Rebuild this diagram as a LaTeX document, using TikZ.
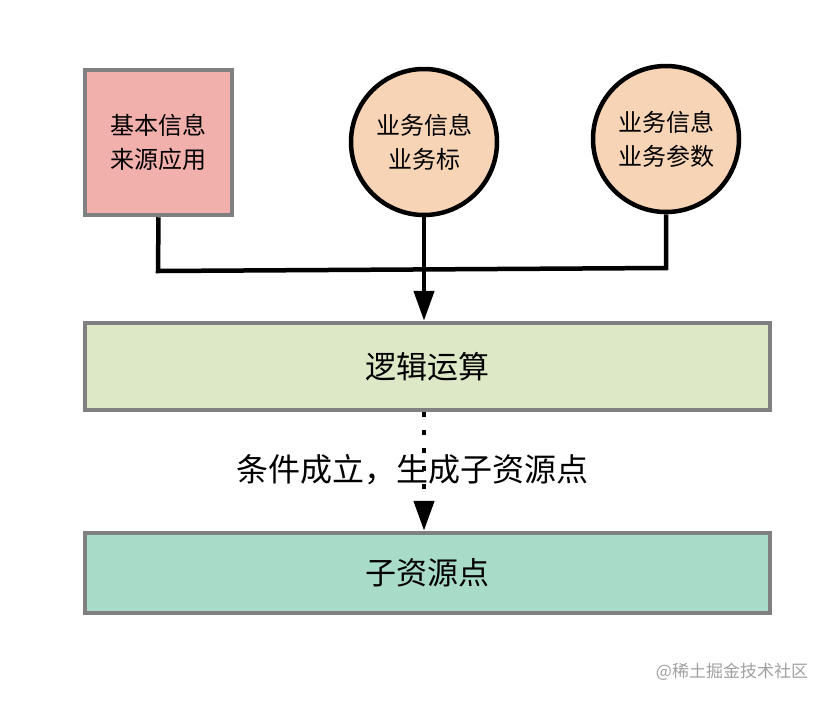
\documentclass[tikz,border=0pt]{standalone}
\usepackage{fontspec}
\newfontfamily\cjk{Noto Sans CJK SC}
\usepackage{xcolor}
\definecolor{colorSource}{RGB}{242,176,173}
\definecolor{colorBiz}{RGB}{248,212,182}
\definecolor{colorLogic}{RGB}{221,233,198}
\definecolor{colorChild}{RGB}{168,220,201}
\definecolor{colorEdge}{RGB}{128,128,128}
\definecolor{colorMark}{RGB}{160,160,160}
\usetikzlibrary{arrows.meta, positioning}

\begin{document}
\begin{tikzpicture}[x=1pt, y=-1pt, >={Triangle[width=20pt, length=30pt]},
  box/.style={draw=colorEdge, line width=4.5pt, rectangle, align=center, font=\cjk\fontsize{24}{34}\selectfont},
  bubble/.style={draw=black, line width=4.5pt, circle, fill=colorBiz, minimum size=146pt, inner sep=0pt, align=center, font=\cjk\fontsize{24}{34}\selectfont},
  wide/.style={box, minimum width=685pt, font=\cjk\fontsize{31}{36}\selectfont},
  wire/.style={line width=4.5pt, black}]
\useasboundingbox (0,0) rectangle (830,702);
\node[box, fill=colorSource, minimum width=147pt, minimum height=145pt] (base) at (158.5,142.5) {基本信息\\来源应用};
\node[bubble] (tag) at (424,142) {业务信息\\业务标};
\node[bubble] (param) at (666,139) {业务信息\\业务参数};
\node[wide, fill=colorLogic, minimum height=87pt] (logic) at (427.5,366.5) {逻辑运算};
\node[wide, fill=colorChild, minimum height=80pt] (child) at (427.5,573) {子资源点};
\node[font=\cjk\fontsize{32}{36}\selectfont] (cond) at (412,470) {条件成立，生成子资源点};
\node[font=\cjk\fontsize{17}{20}\selectfont, text=colorMark] (mark) at (732,672) {@稀土掘金技术社区};
\coordinate (jl) at (158,271);
\coordinate (jr) at (666,268);
% bus from the three sources
\draw[wire] (base.south) -- (jl) -- (jr) -- (param.south);
\draw[wire, ->] (tag.south) -- (tag.south |- logic.north);
% dotted step
\draw[wire, dash pattern=on 5pt off 13pt, ->] (tag.south |- logic.south) -- (tag.south |- child.north);
\end{tikzpicture}
\end{document}
